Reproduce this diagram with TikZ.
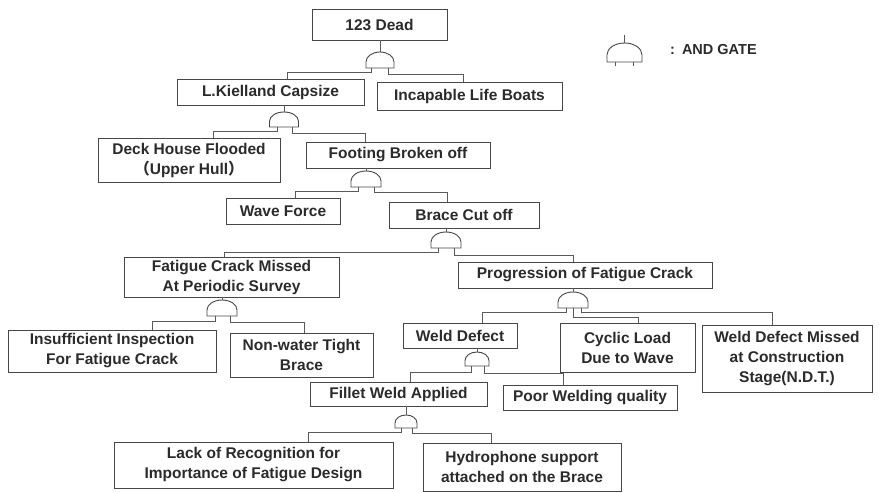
\documentclass[tikz,border=0pt]{standalone}
\usepackage{fontspec}
\setmainfont{Liberation Sans}
\newfontfamily\cjk{Noto Sans CJK JP}
\usetikzlibrary{calc}
\definecolor{ink}{HTML}{2B2B2B}
\definecolor{edge}{HTML}{474747}
\definecolor{wire}{HTML}{5A5A5A}
\tikzset{
  box/.style={draw=edge, line width=0.9pt, rectangle, inner sep=0pt, align=center,
    text=ink, font=\bfseries\fontsize{15.5}{20}\selectfont},
  gatenode/.style={inner sep=0pt, outer sep=0pt, rectangle},
  gateline/.style={draw=edge, line width=0.9pt},
  wireline/.style={draw=wire, line width=0.8pt},
  legendtext/.style={text=ink, font=\bfseries\fontsize{14.5}{18}\selectfont, inner sep=0pt}
}
\newcommand\andgate[5]{%
  \node[gatenode, minimum width=#4pt, minimum height=#5pt] (#1) at (#2,#3) {};
  \draw[gateline] (#1.south west) -- ++(0pt,{0.38*#5pt})
     arc[start angle=180, end angle=0, x radius={0.5*#4pt}, y radius={0.62*#5pt}]
     -- (#1.south east) -- cycle;}
\begin{document}
\begin{tikzpicture}[x=1pt,y=-1pt]
\fill[white] (0,0) rectangle (879,493);
\useasboundingbox (0,0) rectangle (879,493);

% boxes
\node[box, minimum width=135pt, minimum height=31pt] (dead) at (379.5,24.5) {123 Dead};
\node[box, minimum width=187pt, minimum height=26pt] (kiel) at (270.5,92) {L.Kielland Capsize};
\node[box, minimum width=185pt, minimum height=28pt] (life) at (469.5,96) {Incapable Life Boats};
\node[box, minimum width=182pt, minimum height=44pt] (deck) at (189,160) {Deck House Flooded\\{\cjk （}Upper Hull{\cjk ）}};
\node[box, minimum width=184pt, minimum height=26pt] (foot) at (398,155) {Footing Broken off};
\node[box, minimum width=114pt, minimum height=26pt] (wave) at (283,211) {Wave Force};
\node[box, minimum width=150pt, minimum height=26pt] (brace) at (464,215) {Brace Cut off};
\node[box, minimum width=215pt, minimum height=40pt] (fatig) at (231.5,277) {Fatigue Crack Missed\\At Periodic Survey};
\node[box, minimum width=254pt, minimum height=26pt] (prog) at (585,275) {Progression of Fatigue Crack};
\node[box, minimum width=208pt, minimum height=42pt] (insuf) at (112,351) {Insufficient Inspection\\For Fatigue Crack};
\node[box, minimum width=143pt, minimum height=44pt] (nonw) at (301.5,355) {Non-water Tight\\Brace};
\node[box, minimum width=114pt, minimum height=25pt] (weld) at (460,335.5) {Weld Defect};
\node[box, minimum width=135pt, minimum height=49pt] (cyclic) at (627.5,347.5) {Cyclic Load\\Due to Wave};
\node[box, minimum width=170pt, minimum height=67pt] (wdm) at (787,358.5) {Weld Defect Missed\\at Construction\\Stage(N.D.T.)};
\node[box, minimum width=177pt, minimum height=24pt] (fillet) at (398.5,394) {Fillet Weld Applied};
\node[box, minimum width=174pt, minimum height=25pt] (poor) at (590,397.5) {Poor Welding quality};
\node[box, minimum width=279pt, minimum height=46pt] (lack) at (253.5,465) {Lack of Recognition for\\Importance of Fatigue Design};
\node[box, minimum width=198pt, minimum height=48pt] (hydro) at (522,467) {Hydrophone support\\attached on the Brace};

% gates
\andgate{g1}{380}{60}{28}{16}
\andgate{g2}{284}{119.5}{29}{15}
\andgate{g3}{366}{179}{30}{16}
\andgate{g4}{446}{240}{30}{16}
\andgate{g5}{222}{308}{30}{16}
\andgate{g6}{573}{300}{30}{16}
\andgate{g7}{477}{359}{24}{14}
\andgate{g8}{406}{421.5}{22}{13}

% gate 1
\draw[wireline] (g1.north |- dead.south) -- (g1.north);
\draw[wireline] ([xshift=-9pt]g1.south) -- ++(0,4) -| ([xshift=16.5pt]kiel.north);
\draw[wireline] ([xshift=8pt]g1.south) -- ++(0,6) -| ([xshift=-6.5pt]life.north);
% gate 2
\draw[wireline] (g2.north |- kiel.south) -- (g2.north);
\draw[wireline] ([xshift=-7pt]g2.south) -- ++(0,4) -| ([xshift=24pt]deck.north);
\draw[wireline] ([xshift=8pt]g2.south) -- ++(0,6) -| ([xshift=-33pt]foot.north);
% gate 3
\draw[wireline] (g3.north |- foot.south) -- (g3.north);
\draw[wireline] ([xshift=-8pt]g3.south) -- ++(0,4) -| ([xshift=12pt]wave.north);
\draw[wireline] ([xshift=8pt]g3.south) -- ++(0,5) -| ([xshift=-17pt]brace.north);
% gate 4
\draw[wireline] (g4.north |- brace.south) -- (g4.north);
\draw[wireline] ([xshift=-8pt]g4.south) -- ++(0,4) -| ([xshift=-7.5pt]fatig.north);
\draw[wireline] ([xshift=8pt]g4.south) -- ++(0,7) -| ([xshift=-12pt]prog.north);
% gate 5
\draw[wireline] (g5.north |- fatig.south) -- (g5.north);
\draw[wireline] ([xshift=-7pt]g5.south) -- ++(0,5) -| ([xshift=40pt]insuf.north);
\draw[wireline] ([xshift=8pt]g5.south) -- ++(0,6) -| ([xshift=2.5pt]nonw.north);
% gate 6
\draw[wireline] (g6.north |- prog.south) -- (g6.north);
\draw[wireline] ([xshift=-7pt]g6.south) -- ++(0,4) -| ([xshift=22pt]weld.north);
\draw[wireline] (g6.south) -- ++(0,9) -| ([xshift=10.5pt]cyclic.north);
\draw[wireline] ([xshift=8pt]g6.south) -- ++(0,4) -| ([xshift=-15pt]wdm.north);
% gate 7
\draw[wireline] (g7.north |- weld.south) -- (g7.north);
\draw[wireline] ([xshift=-6pt]g7.south) -- ++(0,6) -| ([xshift=11.5pt]fillet.north);
\draw[wireline] ([xshift=7pt]g7.south) -- ++(0,7) -| ([xshift=-27pt]poor.north);
% gate 8
\draw[wireline] (g8.north |- fillet.south) -- (g8.north);
\draw[wireline] ([xshift=-5pt]g8.south) -- ++(0,4) -| ([xshift=54.5pt]lack.north);
\draw[wireline] ([xshift=6pt]g8.south) -- ++(0,5) -| ([xshift=-31pt]hydro.north);

% legend
\andgate{gl}{624.5}{52.5}{35}{19}
\coordinate (gltop) at (624.5,35);
\draw[wireline] (gltop) -- (gl.north);
\draw[wireline] ([xshift=-9pt]gl.south) -- ++(0,4);
\draw[wireline] ([xshift=9pt]gl.south) -- ++(0,4);
\node[legendtext, anchor=west] (legtxt) at (670,50) {:\hspace{7pt}AND GATE};
\end{tikzpicture}
\end{document}
